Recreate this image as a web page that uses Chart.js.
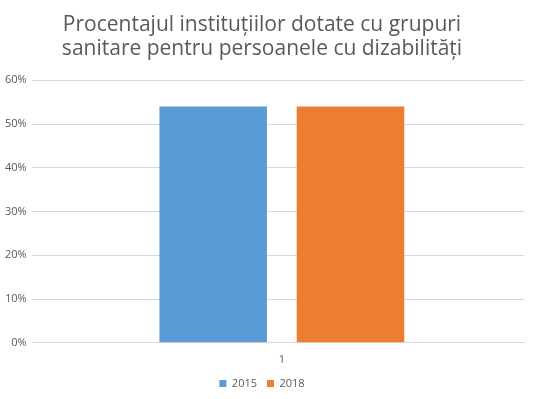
<!DOCTYPE html>
<html>
<head>
<meta charset="utf-8">
<script src="https://cdn.jsdelivr.net/npm/chart.js@4/dist/chart.umd.min.js"></script>
<style>
  html, body { margin: 0; padding: 0; background: #fff; }
  #wrap { width: 539px; height: 399px; }
</style>
</head>
<body>
<div id="wrap"><canvas id="chart1" width="539" height="399"></canvas></div>
<script>
var categories = ['1'];
var series2015 = [54];
var series2018 = [54];
var yTicks = [0, 10, 20, 30, 40, 50, 60];

var grey = '#595959';
var ctx = document.getElementById('chart1');
var chart = new Chart(ctx, {
    type: 'bar',
    data: {
        labels: categories,
        datasets: [{
            label: '2015',
            backgroundColor: '#5B9BD5',
            data: series2015
        }, {
            label: '2018',
            backgroundColor: '#ED7D31',
            data: series2018
        }]
    },
    options: {
        responsive: false,
        animation: false,
        layout: { padding: { left: 0, right: 15, top: 13, bottom: 0 } },
        datasets: {
            bar: { categoryPercentage: 0.567, barPercentage: 0.783 }
        },
        plugins: {
            title: {
                display: true,
                text: ['Procentajul instituțiilor dotate cu grupuri', 'sanitare pentru persoanele cu dizabilități'],
                color: grey,
                font: { family: 'Open Sans', size: 21, weight: 'normal', lineHeight: 1.15 },
                padding: { top: 0, bottom: 19 }
            },
            legend: {
                position: 'bottom',
                labels: {
                    color: grey,
                    boxWidth: 7,
                    boxHeight: 7,
                    padding: 10,
                    font: { family: 'Open Sans', size: 11 }
                }
            },
            tooltip: { enabled: false }
        },
        scales: {
            x: {
                grid: { display: false },
                border: { color: '#d9d9d9' },
                ticks: { color: grey, font: { family: 'Open Sans', size: 11 }, padding: 2 }
            },
            y: {
                min: 0,
                max: 60,
                afterBuildTicks: function (axis) {
                    axis.ticks = yTicks.map(function (v) { return { value: v }; });
                },
                grid: { color: '#d9d9d9' },
                border: { display: false },
                ticks: {
                    color: grey,
                    font: { family: 'Open Sans', size: 11 },
                    padding: 5,
                    callback: function (v) { return v + '%'; }
                }
            }
        }
    }
});
</script>
</body>
</html>
